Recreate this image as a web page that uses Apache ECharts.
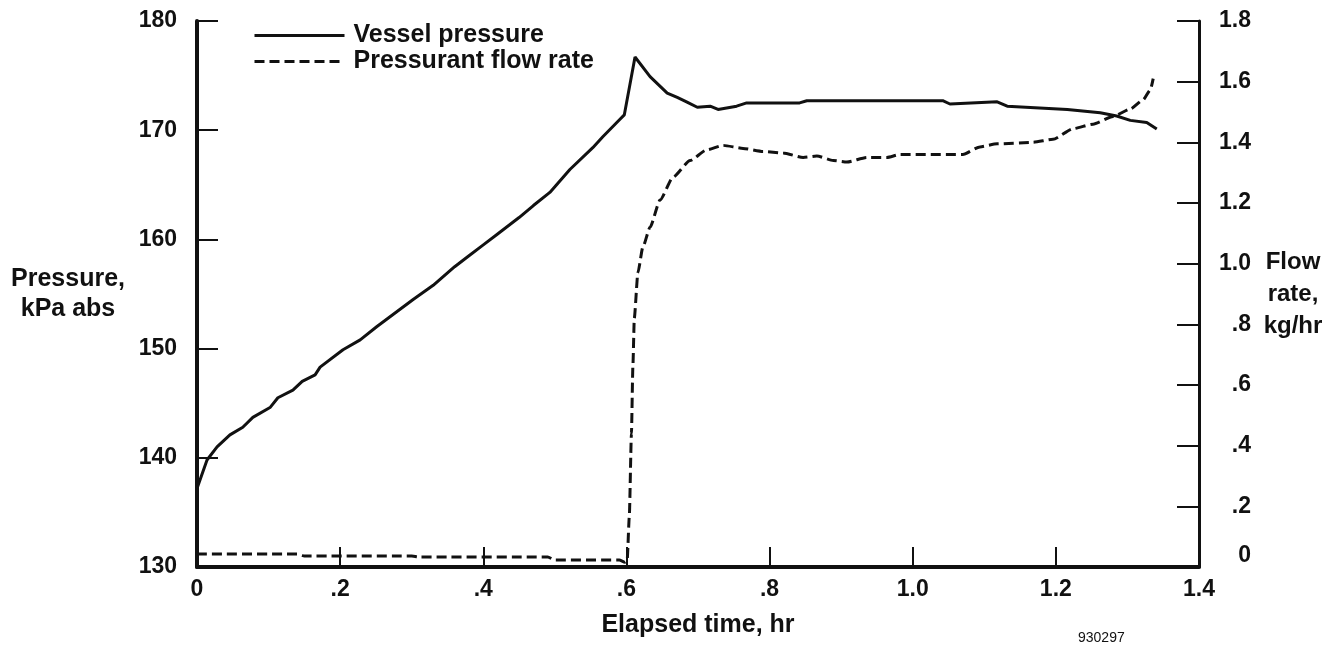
<!DOCTYPE html>
<html>
<head>
<meta charset="utf-8">
<script src="https://cdn.jsdelivr.net/npm/echarts@6/dist/echarts.min.js"></script>
<style>
  html, body { margin: 0; padding: 0; background: #fff; }
  #chart { width: 1343px; height: 646px; }
</style>
</head>
<body>
<div id="chart"></div>
<script>
// vessel pressure, kPa abs (left axis)
const pressureTime = [0, 0.014, 0.028, 0.046, 0.064, 0.078, 0.102, 0.113, 0.134, 0.147, 0.165, 0.172,
  0.204, 0.228, 0.251, 0.302, 0.33, 0.36, 0.38, 0.40, 0.42, 0.45, 0.47, 0.493, 0.521, 0.553, 0.567,
  0.591, 0.597, 0.612, 0.633, 0.657, 0.671, 0.684, 0.699, 0.717, 0.728, 0.754, 0.768, 0.842, 0.852,
  1.042, 1.052, 1.118, 1.132, 1.216, 1.262, 1.285, 1.304, 1.327, 1.341];
const pressureValues = [137.2, 139.8, 141.0, 142.1, 142.8, 143.7, 144.6, 145.5, 146.2, 147.0, 147.6, 148.3,
  149.9, 150.8, 152.0, 154.5, 155.8, 157.5, 158.5, 159.5, 160.5, 162.0, 163.1, 164.3, 166.4, 168.4, 169.4,
  171.0, 171.4, 176.7, 174.9, 173.4, 173.0, 172.6, 172.1, 172.2, 171.9, 172.2, 172.5, 172.5, 172.7,
  172.7, 172.4, 172.6, 172.2, 171.9, 171.6, 171.3, 170.9, 170.7, 170.1];

// pressurant flow rate, kg/hr (right axis)
const flowTime = [0, 0.14, 0.15, 0.30, 0.31, 0.49, 0.50, 0.59, 0.598, 0.601, 0.604, 0.607, 0.609, 0.611,
  0.616, 0.623, 0.633, 0.647, 0.665, 0.689, 0.712, 0.735, 0.763, 0.791, 0.819, 0.847, 0.866, 0.889,
  0.908, 0.936, 0.964, 0.982, 1.070, 1.094, 1.118, 1.168, 1.196, 1.224, 1.252, 1.280, 1.304, 1.322,
  1.332, 1.336];
const flowValues = [0.043, 0.043, 0.036, 0.036, 0.033, 0.033, 0.023, 0.023, 0.016, 0.02, 0.165, 0.44,
  0.66, 0.82, 0.97, 1.055, 1.12, 1.21, 1.285, 1.34, 1.375, 1.39, 1.38, 1.37, 1.365, 1.35, 1.355, 1.34,
  1.335, 1.35, 1.35, 1.36, 1.36, 1.385, 1.395, 1.40, 1.41, 1.445, 1.46, 1.485, 1.51, 1.54,
  1.573, 1.61];

const seriesNames = ['Vessel pressure', 'Pressurant flow rate'];

const ink = '#111';
const font = '"Liberation Sans", Arial, Helvetica, sans-serif';

// .2 style labels, no leading zero
const fmt = function (v) {
  if (Math.abs(v) < 1e-9) return '0';
  const s = v.toFixed(1);
  return v < 1 ? s.replace(/^0/, '') : s;
};

const pressureData = pressureTime.map((t, i) => [t, pressureValues[i]]);
const flowData = flowTime.map((t, i) => [t, flowValues[i]]);

const labelStyle = { color: ink, fontFamily: font, fontWeight: 'bold', fontSize: 23 };
const nameStyle = Object.assign({}, labelStyle, { fontSize: 25 });

const myChart = echarts.init(document.getElementById('chart'));
const option = {
  animation: false,
  backgroundColor: '#fff',
  grid: { left: 197, right: 144, top: 21, bottom: 79 },
  legend: {
    orient: 'vertical',
    left: 248,
    top: 18,
    itemWidth: 90,
    itemHeight: 25,
    itemGap: 1,
    data: seriesNames,
    itemStyle: { opacity: 0 },
    lineStyle: { width: 3 },
    textStyle: Object.assign({}, nameStyle, { lineHeight: 25, padding: [0, 0, 0, 4] }),
  },
  xAxis: {
    type: 'value',
    min: 0,
    max: 1.4,
    interval: 0.2,
    name: 'Elapsed time, hr',
    nameLocation: 'middle',
    nameGap: 58,
    nameTextStyle: Object.assign({}, nameStyle, { verticalAlign: 'middle' }),
    axisLine: { onZero: false, lineStyle: { color: ink, width: 4 } },
    axisTick: { inside: true, length: 20, lineStyle: { color: ink, width: 2 } },
    axisLabel: Object.assign({}, labelStyle, { margin: 11, formatter: fmt }),
    splitLine: { show: false },
  },
  yAxis: [
    {
      type: 'value',
      min: 130,
      max: 180,
      interval: 10,
      position: 'left',
      name: 'Pressure,\nkPa abs',
      nameLocation: 'middle',
      nameRotate: 0,
      nameGap: 129,
      nameTextStyle: Object.assign({}, nameStyle, { align: 'center', lineHeight: 30 }),
      axisLine: { show: true, lineStyle: { color: ink, width: 4 } },
      axisTick: { show: true, inside: true, length: 21, lineStyle: { color: ink, width: 2 } },
      axisLabel: Object.assign({}, labelStyle, { margin: 20 }),
      splitLine: { show: false },
    },
    {
      type: 'value',
      min: 0,
      max: 1.8,
      interval: 0.2,
      position: 'right',
      name: 'Flow\nrate,\nkg/hr',
      nameLocation: 'middle',
      nameRotate: 0,
      nameGap: 94,
      nameTextStyle: Object.assign({}, labelStyle, { fontSize: 24, align: 'center', lineHeight: 32 }),
      axisLine: { show: true, lineStyle: { color: ink, width: 3 } },
      axisTick: { show: true, inside: true, length: 22, lineStyle: { color: ink, width: 2 } },
      axisLabel: Object.assign({}, labelStyle, {
        margin: 52,
        align: 'right',
        verticalAlignMinLabel: 'bottom',
        formatter: fmt,
      }),
      splitLine: { show: false },
    },
  ],
  series: [
    {
      name: seriesNames[0],
      type: 'line',
      yAxisIndex: 0,
      data: pressureData,
      symbol: 'none',
      lineStyle: { color: ink, width: 3 },
      itemStyle: { color: ink },
    },
    {
      name: seriesNames[1],
      type: 'line',
      yAxisIndex: 1,
      data: flowData,
      symbol: 'none',
      smooth: 0.2,
      smoothMonotone: 'x',
      lineStyle: { color: ink, width: 3, type: [10, 5] },
      itemStyle: { color: ink },
    },
  ],
  graphic: [
    {
      type: 'text',
      left: 1078,
      top: 631,
      style: { text: '930297', fill: ink, font: '14px ' + font },
    },
  ],
};
myChart.setOption(option);
</script>
</body>
</html>
